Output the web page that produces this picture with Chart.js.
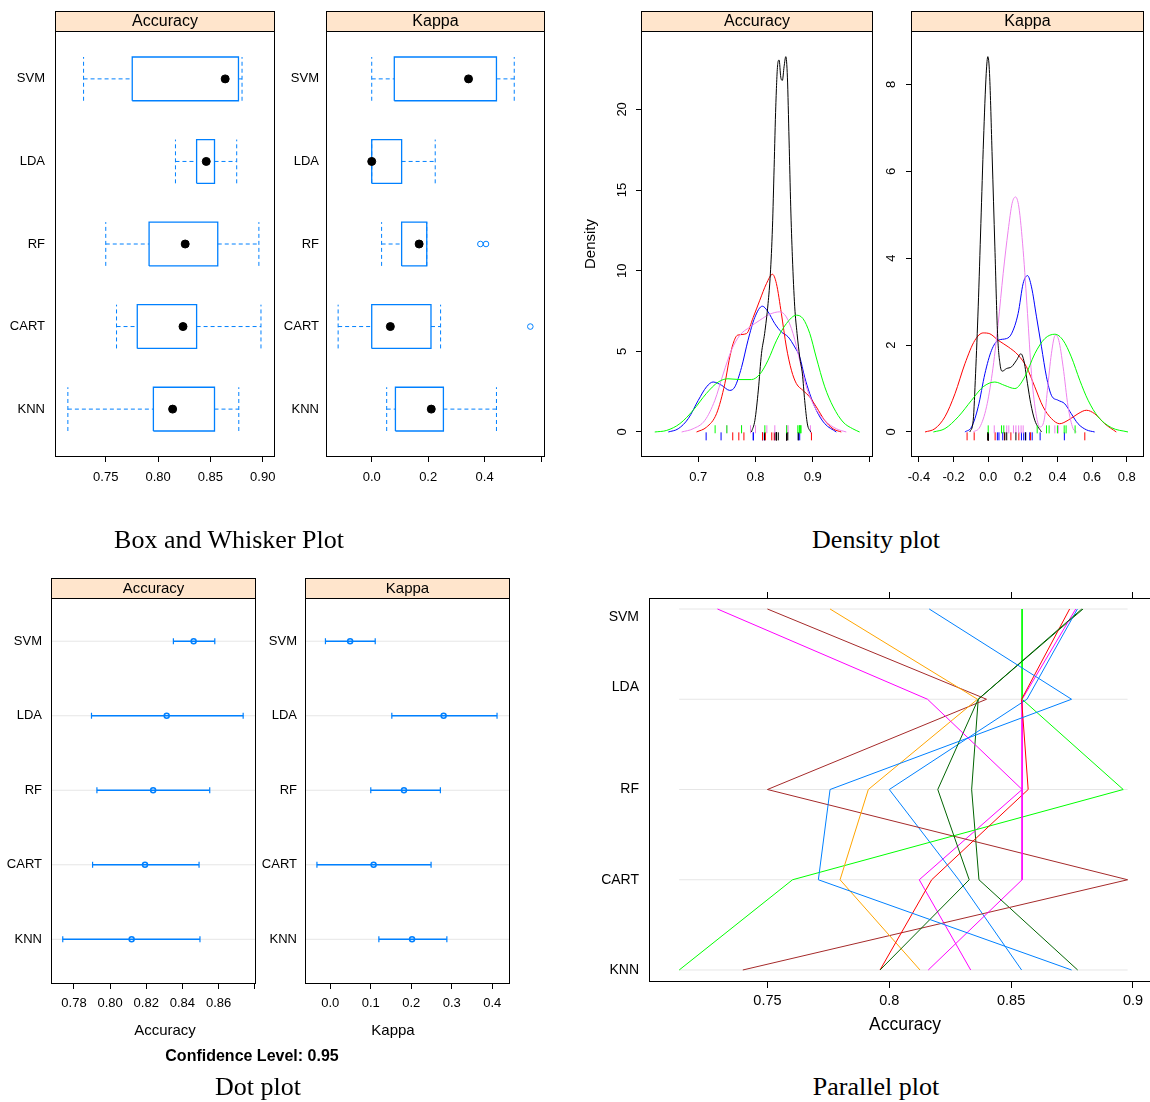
<!DOCTYPE html>
<html>
<head>
<meta charset="utf-8">
<title>Model comparison plots</title>
<script src="https://cdn.jsdelivr.net/npm/chart.js@4.4.1/dist/chart.umd.min.js"></script>
<style>
  body { margin: 0; background: #fff; }
  #page { position: relative; width: 1150px; height: 1102px; background: #fff; overflow: hidden; }
  canvas { position: absolute; }
  .cap { position: absolute; transform: translate(-50%, -50%); white-space: nowrap; color: #000;
         font-family: "Liberation Serif", "Times New Roman", serif; font-size: 26px; }
  .lab { position: absolute; transform: translate(-50%, -50%); white-space: nowrap; color: #000;
         font-family: "Liberation Sans", Arial, sans-serif; font-size: 15px; }
  .note { position: absolute; transform: translate(-50%, -50%); white-space: nowrap; color: #000;
          font-family: "Liberation Sans", Arial, sans-serif; font-size: 16px; font-weight: bold; }
</style>
</head>
<body>
<div id="page">
  <canvas id="boxAcc" width="285" height="500" style="left:0;top:0"></canvas>
  <canvas id="boxKap" width="270" height="500" style="left:280px;top:0"></canvas>
  <canvas id="denAcc" width="298" height="500" style="left:580px;top:0"></canvas>
  <canvas id="denKap" width="270" height="500" style="left:880px;top:0"></canvas>
  <canvas id="dotAcc" width="262" height="495" style="left:0;top:550px"></canvas>
  <canvas id="dotKap" width="254" height="495" style="left:262px;top:550px"></canvas>
  <canvas id="par" width="571" height="465" style="left:590px;top:575px"></canvas>
  <div class="cap" style="left:229px;top:540px">Box and Whisker Plot</div>
  <div class="cap" style="left:876px;top:540px">Density plot</div>
  <div class="lab" style="left:165px;top:1029px">Accuracy</div>
  <div class="lab" style="left:393px;top:1029px">Kappa</div>
  <div class="note" style="left:252px;top:1056px">Confidence Level: 0.95</div>
  <div class="cap" style="left:258px;top:1087px">Dot plot</div>
  <div class="cap" style="left:876px;top:1087px">Parallel plot</div>
</div>
<script>
// ---- data ----
const models = ['SVM', 'LDA', 'RF', 'CART', 'KNN'];

// box and whisker (Accuracy)
const accLo  = [0.7288, 0.8166, 0.7500, 0.7603, 0.7138];
const accQ1  = [0.7753, 0.8368, 0.7914, 0.7801, 0.7955];
const accMed = [0.8641, 0.8460, 0.8259, 0.8238, 0.8139];
const accQ3  = [0.8768, 0.8539, 0.8570, 0.8368, 0.8539];
const accHi  = [0.8802, 0.8751, 0.8963, 0.8983, 0.8771];
const accOut = [[], [], [], [], []];
// box and whisker (Kappa)
const kapLo  = [0.000, 0.000, 0.035, -0.119, 0.053];
const kapQ1  = [0.080, 0.000, 0.106, 0.000, 0.084];
const kapMed = [0.343, 0.000, 0.168, 0.066, 0.211];
const kapQ3  = [0.442, 0.106, 0.195, 0.210, 0.254];
const kapHi  = [0.505, 0.225, 0.195, 0.244, 0.442];
const kapOut = [[], [], [0.385, 0.405], [0.562], []];

// resampled accuracy, 10 resamples per model (parallel plot + rug)
const accSVM  = [0.8164, 0.7295, 0.8790, 0.8740, 0.7757, 0.8545, 0.7500, 0.8772, 0.8765, 0.8795];
const accLDA  = [0.8748, 0.8157, 0.8365, 0.8543, 0.8362, 0.8545, 0.8399, 0.8565, 0.8545, 0.8365];
const accRF   = [0.7757, 0.8545, 0.8199, 0.8570, 0.7914, 0.8960, 0.7500, 0.8000, 0.8545, 0.8338];
const accCART = [0.7709, 0.8545, 0.8328, 0.8174, 0.7798, 0.7603, 0.8978, 0.8285, 0.8123, 0.8368];
const accKNN  = [0.8748, 0.8160, 0.7962, 0.7962, 0.8126, 0.7138, 0.7399, 0.8543, 0.8334, 0.8773];
// resampled kappa (rug)
const kapSVM  = [0.000, 0.077, 0.090, 0.283, 0.337, 0.352, 0.400, 0.439, 0.450, 0.502];
const kapLDA  = [0.000, 0.000, 0.000, 0.000, 0.000, 0.000, 0.096, 0.107, 0.160, 0.215];
const kapRF   = [0.035, 0.107, 0.119, 0.146, 0.160, 0.176, 0.190, 0.202, 0.385, 0.405];
const kapCART = [-0.122, -0.081, 0.000, 0.000, 0.040, 0.094, 0.131, 0.177, 0.244, 0.558];
const kapKNN  = [0.053, 0.062, 0.084, 0.192, 0.205, 0.217, 0.240, 0.254, 0.300, 0.440];

// density curves, [x, density]
const densAccSVM = [[0.624,0],[0.645,0.1],[0.668,0.52],[0.691,1.34],[0.714,2.38],[0.735,3.1],[0.752,3.3],[0.773,3.25],[0.793,3.25],[0.808,3.6],[0.822,4.45],[0.837,5.69],[0.854,6.72],[0.8715,7.24],[0.883,7.03],[0.895,6.1],[0.906,4.65],[0.921,2.8],[0.936,1.55],[0.953,0.62],[0.970,0.2],[0.982,0]];
const densAccLDA = [[0.793,0],[0.799,0.72],[0.805,2.6],[0.8105,4.86],[0.816,6.1],[0.822,7.96],[0.826,9.8],[0.8297,12.7],[0.8326,16.4],[0.8355,20.2],[0.839,22.85],[0.8413,23.06],[0.8442,22.0],[0.847,21.8],[0.850,22.65],[0.853,23.27],[0.8558,22.0],[0.8587,18.1],[0.8616,13.96],[0.8645,10.86],[0.8686,7.76],[0.8727,6.1],[0.8773,4.65],[0.882,3.6],[0.886,1.96],[0.8907,0.5],[0.8965,0]];
const densAccRF = [[0.671,0],[0.691,0.2],[0.7116,0.72],[0.729,1.96],[0.7436,3.6],[0.758,5.07],[0.7727,6.0],[0.79,6.5],[0.8076,6.93],[0.825,7.3],[0.8424,7.45],[0.854,7.13],[0.8657,6.1],[0.8773,4.45],[0.889,2.8],[0.9035,1.55],[0.921,0.72],[0.9413,0.2],[0.9587,0]];
const densAccCART = [[0.697,0],[0.7145,0.3],[0.732,1.14],[0.7465,3.0],[0.754,4.45],[0.761,5.48],[0.7686,6.0],[0.7843,6.1],[0.796,7.1],[0.8076,8.17],[0.8192,9.2],[0.8297,9.78],[0.8366,9.2],[0.8453,7.34],[0.854,5.27],[0.8628,3.83],[0.8715,3.0],[0.883,2.58],[0.8948,2.17],[0.9064,1.55],[0.921,0.72],[0.9355,0.2],[0.95,0]];
const densAccKNN = [[0.6477,0],[0.665,0.2],[0.6826,0.83],[0.7,1.96],[0.7145,2.8],[0.726,3.1],[0.7407,2.9],[0.755,2.58],[0.764,2.8],[0.7756,4.0],[0.787,5.69],[0.7988,7.1],[0.812,7.8],[0.822,7.45],[0.8337,6.72],[0.8453,6.2],[0.857,5.9],[0.8686,5.27],[0.8773,4.65],[0.886,3.4],[0.8948,2.38],[0.9064,1.34],[0.921,0.52],[0.9413,0]];
const densKapSVM = [[-0.317,0],[-0.25,0.077],[-0.173,0.35],[-0.096,0.73],[-0.029,1.04],[0.0385,1.15],[0.096,1.07],[0.154,1.0],[0.2115,1.27],[0.269,1.8],[0.327,2.15],[0.385,2.25],[0.4327,2.11],[0.48,1.73],[0.529,1.19],[0.577,0.73],[0.635,0.35],[0.7115,0.1],[0.8077,0]];
const densKapLDA = [[-0.106,0],[-0.0865,0.27],[-0.073,1.34],[-0.0577,2.88],[-0.0423,4.8],[-0.027,6.72],[-0.0115,8.25],[-0.002,8.64],[0.0077,8.25],[0.023,6.33],[0.0385,4.26],[0.054,2.26],[0.069,1.54],[0.0808,1.4],[0.106,1.46],[0.1346,1.5],[0.1635,1.65],[0.1885,1.8],[0.2077,1.61],[0.227,1.11],[0.246,0.65],[0.269,0.27],[0.3077,0]];
const densKapRF = [[-0.0865,0],[-0.048,0.115],[-0.0096,0.58],[0.023,1.34],[0.0577,2.5],[0.0865,3.65],[0.1154,4.64],[0.138,5.26],[0.1577,5.41],[0.177,5.18],[0.2019,4.18],[0.227,2.73],[0.25,1.34],[0.273,0.5],[0.298,0.115],[0.323,0.27],[0.342,0.96],[0.365,1.8],[0.388,2.23],[0.4077,2.11],[0.4327,1.5],[0.4615,0.58],[0.49,0.08],[0.51,0]];
const densKapCART = [[-0.365,0],[-0.3077,0.077],[-0.25,0.35],[-0.192,0.88],[-0.1346,1.57],[-0.077,2.11],[-0.029,2.28],[0.0096,2.26],[0.0577,2.11],[0.1154,1.96],[0.173,1.77],[0.221,1.5],[0.269,1.04],[0.317,0.58],[0.365,0.31],[0.413,0.19],[0.4615,0.27],[0.519,0.42],[0.567,0.5],[0.615,0.42],[0.673,0.19],[0.74,0]];
const densKapKNN = [[-0.1346,0],[-0.096,0.115],[-0.0577,0.58],[-0.0192,1.34],[0.0192,1.88],[0.0577,2.11],[0.1058,2.15],[0.1346,2.26],[0.173,2.73],[0.2019,3.42],[0.227,3.6],[0.25,3.34],[0.279,2.65],[0.3077,1.96],[0.3365,1.27],[0.365,0.845],[0.4038,0.73],[0.442,0.65],[0.48,0.42],[0.519,0.19],[0.567,0.05],[0.615,0]];

// dot plot (confidence intervals)
const dotAccLo  = [0.8350, 0.7897, 0.7927, 0.7903, 0.7738];
const dotAccMid = [0.8462, 0.8313, 0.8238, 0.8193, 0.8119];
const dotAccHi  = [0.8579, 0.8736, 0.8551, 0.8492, 0.8497];
const dotKapLo  = [-0.012, 0.152, 0.100, -0.033, 0.120];
const dotKapMid = [0.049, 0.280, 0.182, 0.107, 0.202];
const dotKapHi  = [0.111, 0.412, 0.272, 0.249, 0.288];

// tick labels
const boxAccTicks = [0.75, 0.80, 0.85, 0.90], boxAccTickText = ['0.75', '0.80', '0.85', '0.90'];
const boxKapTicks = [0, 0.2, 0.4, 0.6],       boxKapTickText = ['0.0', '0.2', '0.4', ''];
const denAccTicks = [0.7, 0.8, 0.9, 1.0],     denAccTickText = ['0.7', '0.8', '0.9', ''];
const denKapTicks = [-0.4, -0.2, 0, 0.2, 0.4, 0.6, 0.8], denKapTickText = ['-0.4', '-0.2', '0.0', '0.2', '0.4', '0.6', '0.8'];
const denAccYTicks = [0, 5, 10, 15, 20],      denAccYTickText = ['0', '5', '10', '15', '20'];
const denKapYTicks = [0, 2, 4, 6, 8],         denKapYTickText = ['0', '2', '4', '6', '8'];
const dotAccTicks = [0.78, 0.80, 0.82, 0.84, 0.86, 0.88], dotAccTickText = ['0.78', '0.80', '0.82', '0.84', '0.86', ''];
const dotKapTicks = [0, 0.1, 0.2, 0.3, 0.4],  dotKapTickText = ['0.0', '0.1', '0.2', '0.3', '0.4'];
const parTicks = [0.75, 0.80, 0.85, 0.90],    parTickText = ['0.75', '0.8', '0.85', '0.9'];

// ---- styles ----
const FONT = '"Liberation Sans", Arial, sans-serif';
const BLUE = '#0080ff';
const modelColors = ['#00ff00', '#000000', '#ee82ee', '#ff0000', '#0000ff'];
const rugRow = [0, 1, 0, 1, 1];           // 0 = upper rug row, 1 = lower
const resampleColors = ['#0080ff', '#ff00ff', '#006400', '#ff0000', '#ffa500',
                        '#00ff00', '#a52a2a', '#0080ff', '#ff00ff', '#006400'];
const parLabelPos = [4.91, 4.135, 3, 2, 1];   // where the parallel plot prints its row names

Chart.defaults.color = '#000';
Chart.defaults.font.family = FONT;

const yOf = i => models.length - i;   // SVM on top

function seg(points, color, dash, width) {
  return { data: points, showLine: true, borderColor: color, borderWidth: width || 1,
           borderDash: dash || [], pointRadius: 0, pointHitRadius: 0, fill: false };
}

function boxData(lo, q1, med, q3, hi, out) {
  const h = 0.265;
  const ds = [{ data: med.map((v, i) => ({ x: v, y: yOf(i) })), showLine: false,
                pointRadius: 4, pointBackgroundColor: '#000', pointBorderColor: '#000' }];
  const outPts = [];
  out.forEach((arr, i) => arr.forEach(v => outPts.push({ x: v, y: yOf(i) })));
  ds.push({ data: outPts, showLine: false, pointRadius: 2.8, pointBorderWidth: 1,
            pointBorderColor: BLUE, pointBackgroundColor: 'rgba(0,0,0,0)' });
  models.forEach((m, i) => {
    const y = yOf(i);
    ds.push(seg([{ x: q1[i], y: y - h }, { x: q3[i], y: y - h }, { x: q3[i], y: y + h },
                 { x: q1[i], y: y + h }, { x: q1[i], y: y - h }], BLUE, null, 1.3));
    ds.push(seg([{ x: lo[i], y }, { x: q1[i], y }], BLUE, [4, 3]));
    ds.push(seg([{ x: q3[i], y }, { x: hi[i], y }], BLUE, [4, 3]));
    ds.push(seg([{ x: lo[i], y: y - h }, { x: lo[i], y: y + h }], BLUE, [4, 3]));
    ds.push(seg([{ x: hi[i], y: y - h }, { x: hi[i], y: y + h }], BLUE, [4, 3]));
  });
  return ds;
}

function dotData(lo, mid, hi, xmin, xmax) {
  const ds = [{ data: mid.map((v, i) => ({ x: v, y: yOf(i) })), showLine: false,
                pointRadius: 2.5, pointBorderWidth: 1.5, pointBorderColor: BLUE,
                pointBackgroundColor: 'rgba(0,0,0,0)' }];
  const ends = lo.map((v, i) => ({ x: v, y: yOf(i) })).concat(hi.map((v, i) => ({ x: v, y: yOf(i) })));
  ds.push({ data: ends, showLine: false, pointStyle: 'line', pointRotation: 90,
            pointRadius: 3, pointBorderWidth: 1.2, pointBorderColor: BLUE });
  models.forEach((m, i) => ds.push(seg([{ x: lo[i], y: yOf(i) }, { x: hi[i], y: yOf(i) }], BLUE, null, 1.5)));
  models.forEach((m, i) => ds.push(seg([{ x: xmin, y: yOf(i) }, { x: xmax, y: yOf(i) }], '#e6e6e6')));
  return ds;
}

function densData(curves, samples, rugY) {
  const ds = [];
  models.forEach((m, i) => {
    ds.push({ data: curves[i].map(p => ({ x: p[0], y: p[1] })), showLine: true,
              borderColor: modelColors[i], borderWidth: 1, pointRadius: 0, pointHitRadius: 0,
              cubicInterpolationMode: 'monotone' });
    ds.push({ data: samples[i].map(v => ({ x: v, y: rugY[rugRow[i]] })), showLine: false,
              pointStyle: 'line', pointRotation: 90, pointRadius: 4, pointBorderWidth: 1,
              pointBorderColor: modelColors[i] });
  });
  return ds;
}

// frame, strip and rotated y labels
const panelPlugin = {
  id: 'panel',
  afterDraw(chart, args, o) {
    const ctx = chart.ctx, a = chart.chartArea;
    const L = Math.round(a.left) + 0.5, T = Math.round(a.top) + 0.5;
    const R = Math.round(a.right) - 0.5, B = Math.round(a.bottom) - 0.5;
    ctx.save();
    ctx.strokeStyle = '#000';
    ctx.lineWidth = 1;
    ctx.strokeRect(L, T, R - L, B - T);
    if (o.strip) {
      ctx.fillStyle = '#ffe5cc';
      ctx.fillRect(L, T - 20, R - L, 20);
      ctx.strokeRect(L, T - 20, R - L, 20);
      ctx.fillStyle = '#000';
      ctx.font = o.stripSize + 'px ' + FONT;
      ctx.textAlign = 'center';
      ctx.textBaseline = 'middle';
      ctx.fillText(o.strip, (L + R) / 2, T - 9.5);
    }
    if (o.yText) {
      const s = chart.scales.y;
      ctx.font = '13px ' + FONT;
      ctx.fillStyle = '#000';
      ctx.textAlign = 'center';
      ctx.textBaseline = 'middle';
      s.ticks.forEach((t, i) => {
        ctx.save();
        ctx.translate(a.left - o.yOffset, s.getPixelForValue(t.value));
        ctx.rotate(-Math.PI / 2);
        ctx.fillText(o.yText[i], 0, 0);
        ctx.restore();
      });
    }
    ctx.restore();
  }
};

function xAxis(min, max, ticks, text, o) {
  return {
    type: 'linear', position: o.position || 'bottom', min, max,
    afterBuildTicks: s => { s.ticks = ticks.map(v => ({ value: v })); },
    afterFit: s => { s.height = o.h; },
    grid: { display: true, drawOnChartArea: false, drawTicks: true, tickLength: o.tick || 5, color: '#000' },
    border: { display: false },
    ticks: { display: !o.noLabels, color: '#000', font: { size: o.font || 13 }, padding: o.pad,
             maxRotation: 0, autoSkip: false, callback: (v, i) => text[i] },
    title: o.title ? { display: true, text: o.title, color: '#000', font: { size: o.titleSize },
                       padding: { top: 0, bottom: o.titlePad } } : { display: false }
  };
}

function yCatAxis(min, max, w, font, pad, pos) {
  const at = pos || models.map((m, i) => yOf(i));
  return {
    type: 'linear', min, max,
    afterBuildTicks: s => { s.ticks = at.map(v => ({ value: v })); },
    afterFit: s => { s.width = w; },
    grid: { display: false, drawTicks: false },
    border: { display: false },
    ticks: { color: '#000', font: { size: font }, padding: pad, autoSkip: false,
             callback: (v, i) => models[i] }
  };
}

function yNumAxis(min, max, ticks, w, title) {
  return {
    type: 'linear', min, max,
    afterBuildTicks: s => { s.ticks = ticks.map(v => ({ value: v })); },
    afterFit: s => { s.width = w; },
    grid: { display: true, drawOnChartArea: false, drawTicks: true, tickLength: 5, color: '#000' },
    border: { display: false },
    ticks: { display: false },
    title: title ? { display: true, text: title, color: '#000', font: { size: 15 }, padding: { top: 2, bottom: 0 } }
                 : { display: false }
  };
}

function makeChart(id, datasets, padding, scales, panel) {
  return new Chart(document.getElementById(id), {
    type: 'scatter',
    data: { datasets },
    options: {
      responsive: false, animation: false, events: [],
      layout: { padding },
      plugins: { legend: { display: false }, tooltip: { enabled: false }, panel },
      scales
    },
    plugins: [panelPlugin]
  });
}

// ---- box and whisker ----
makeChart('boxAcc', boxData(accLo, accQ1, accMed, accQ3, accHi, accOut),
  { left: 0, top: 31, right: 10, bottom: 0 },
  { x: xAxis(0.7015, 0.9117, boxAccTicks, boxAccTickText, { h: 43, pad: 8 }),
    y: yCatAxis(0.42, 5.58, 55, 13, 10) },
  { strip: 'Accuracy', stripSize: 16 });

makeChart('boxKap', boxData(kapLo, kapQ1, kapMed, kapQ3, kapHi, kapOut),
  { left: 0, top: 31, right: 5, bottom: 0 },
  { x: xAxis(-0.162, 0.614, boxKapTicks, boxKapTickText, { h: 43, pad: 8 }),
    y: yCatAxis(0.42, 5.58, 46, 13, 7) },
  { strip: 'Kappa', stripSize: 16 });

// ---- density ----
const accSamples = [accSVM, accLDA, accRF, accCART, accKNN];
const kapSamples = [kapSVM, kapLDA, kapRF, kapCART, kapKNN];

makeChart('denAcc', densData([densAccSVM, densAccLDA, densAccRF, densAccCART, densAccKNN], accSamples, [0.17, -0.27]),
  { left: 0, top: 31, right: 5, bottom: 0 },
  { x: xAxis(0.6, 1.0052, denAccTicks, denAccTickText, { h: 43, pad: 8 }),
    y: yNumAxis(-1.55, 24.86, denAccYTicks, 61, 'Density') },
  { strip: 'Accuracy', stripSize: 16, yText: denAccYTickText, yOffset: 19 });

makeChart('denKap', densData([densKapSVM, densKapLDA, densKapRF, densKapCART, densKapKNN], kapSamples, [0.06, -0.1]),
  { left: 0, top: 31, right: 6, bottom: 0 },
  { x: xAxis(-0.446, 0.9, denKapTicks, denKapTickText, { h: 43, pad: 8 }),
    y: yNumAxis(-0.576, 9.23, denKapYTicks, 31, null) },
  { strip: 'Kappa', stripSize: 16, yText: denKapYTickText, yOffset: 20 });

// ---- dot plot ----
makeChart('dotAcc', dotData(dotAccLo, dotAccMid, dotAccHi, 0.7673, 0.8807),
  { left: 0, top: 48, right: 6, bottom: 0 },
  { x: xAxis(0.7673, 0.8807, dotAccTicks, dotAccTickText, { h: 61, pad: 7 }),
    y: yCatAxis(0.4, 5.58, 51, 13, 9) },
  { strip: 'Accuracy', stripSize: 15 });

makeChart('dotKap', dotData(dotKapLo, dotKapMid, dotKapHi, -0.0625, 0.444),
  { left: 0, top: 48, right: 6, bottom: 0 },
  { x: xAxis(-0.0625, 0.444, dotKapTicks, dotKapTickText, { h: 61, pad: 7 }),
    y: yCatAxis(0.4, 5.58, 43, 13, 8) },
  { strip: 'Kappa', stripSize: 15 });

// ---- parallel plot ----
const accByModel = [accSVM, accLDA, accRF, accCART, accKNN];
const parSets = resampleColors.map((c, r) =>
  seg(models.map((m, i) => ({ x: accByModel[i][r], y: yOf(i) })), c));
const allAcc = accByModel.flat();
const accMin = Math.min(...allAcc), accMax = Math.max(...allAcc);
models.forEach((m, i) => parSets.push(seg([{ x: accMin, y: yOf(i) }, { x: accMax, y: yOf(i) }], '#e6e6e6')));

makeChart('par', parSets,
  { left: 0, top: 17, right: 0, bottom: 0 },
  { x: xAxis(0.7014, 0.9115, parTicks, parTickText, { h: 58, pad: 4, font: 14.5, tick: 6, title: 'Accuracy', titleSize: 17.5, titlePad: 4.5 }),
    xTop: Object.assign(xAxis(0.7014, 0.9115, parTicks, parTickText, { h: 6, pad: 0, tick: 6, noLabels: true, position: 'top' }), { axis: 'x' }),
    y: yCatAxis(0.867, 5.122, 59, 14, 10, parLabelPos) },
  {});
</script>
</body>
</html>
